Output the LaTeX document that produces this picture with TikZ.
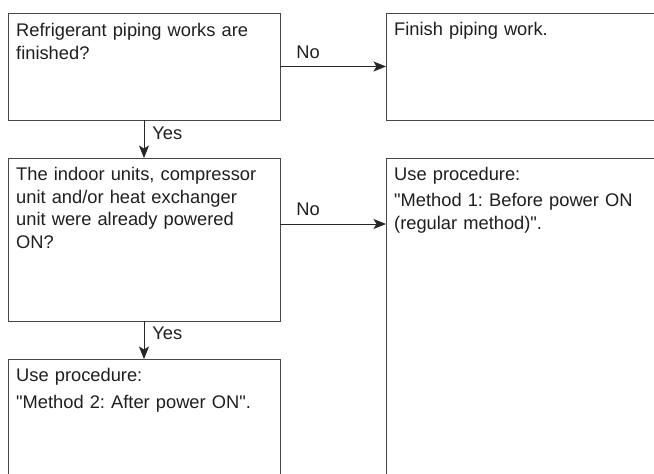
\documentclass[tikz,border=0pt]{standalone}
\usepackage{fontspec}
\newfontfamily\lsans{Liberation Sans}
\usetikzlibrary{arrows.meta,calc}
\begin{document}
\begin{tikzpicture}[x=1pt,y=-1pt,
  box/.style={draw=black!72,line width=0.9pt,rectangle,inner sep=0pt,outer sep=0pt,anchor=north west},
  txt/.style={anchor=base west,inner sep=0pt,text width=300pt,align=left,text=black!88,
    font=\lsans\frenchspacing\fontsize{18.3}{22.7}\selectfont},
  lbl/.style={anchor=base west,inner sep=0pt,text=black!88,font=\lsans\fontsize{18.3}{22.7}\selectfont},
  arr/.style={draw=black!85,line width=0.9pt,-{Stealth[length=12.5pt,width=10pt,inset=3pt]}}]
\useasboundingbox (0,0) rectangle (654,474);
\clip (0,0) rectangle (654,474);
\fill[white] (0,0) rectangle (654,474);
% boxes
\node[box,minimum width=272pt,minimum height=107pt] (b1) at (8,13) {};
\node[box,minimum width=300pt,minimum height=107pt] (b2) at (386,13) {};
\node[box,minimum width=272pt,minimum height=163pt] (b3) at (8,158) {};
\node[box,minimum width=300pt,minimum height=400pt] (b4) at (386,158) {};
\node[box,minimum width=272pt,minimum height=200pt] (b5) at (8,359) {};
% texts
\node[txt] (t1) at ($(b1.north west)+(8,23.5)$) {Refrigerant piping works are\\finished?};
\node[txt] (t2) at ($(b2.north west)+(8,22.5)$) {Finish piping work.};
\node[txt] (t3) at ($(b3.north west)+(8,22.5)$) {The indoor units, compressor\\unit and/or heat exchanger\\unit were already powered\\ON?};
\node[txt] (t4) at ($(b4.north west)+(8,22.7)$) {Use procedure:\\[3.3pt]"Method 1: Before power ON\\(regular method)".};
\node[txt] (t5) at ($(b5.north west)+(8,22.7)$) {Use procedure:\\[3.9pt]"Method 2: After power ON".};
% connectors
\draw[arr] (b1) -- (b2)
  node[lbl,at start,xshift=16pt,yshift=8.5pt] (n1) {No};
\coordinate (n2s) at ($(b3.north east)+(0,66)$);
\draw[arr] (n2s) -- (n2s -| b4.west)
  node[lbl,at start,xshift=16pt,yshift=8.5pt] (n2) {No};
\draw[arr] (b1) -- (b3)
  node[lbl,at start,xshift=8pt,yshift=-19pt] (y1) {Yes};
\draw[arr] (b3) -- (b5)
  node[lbl,at start,xshift=8pt,yshift=-18pt] (y2) {Yes};
\end{tikzpicture}
\end{document}
